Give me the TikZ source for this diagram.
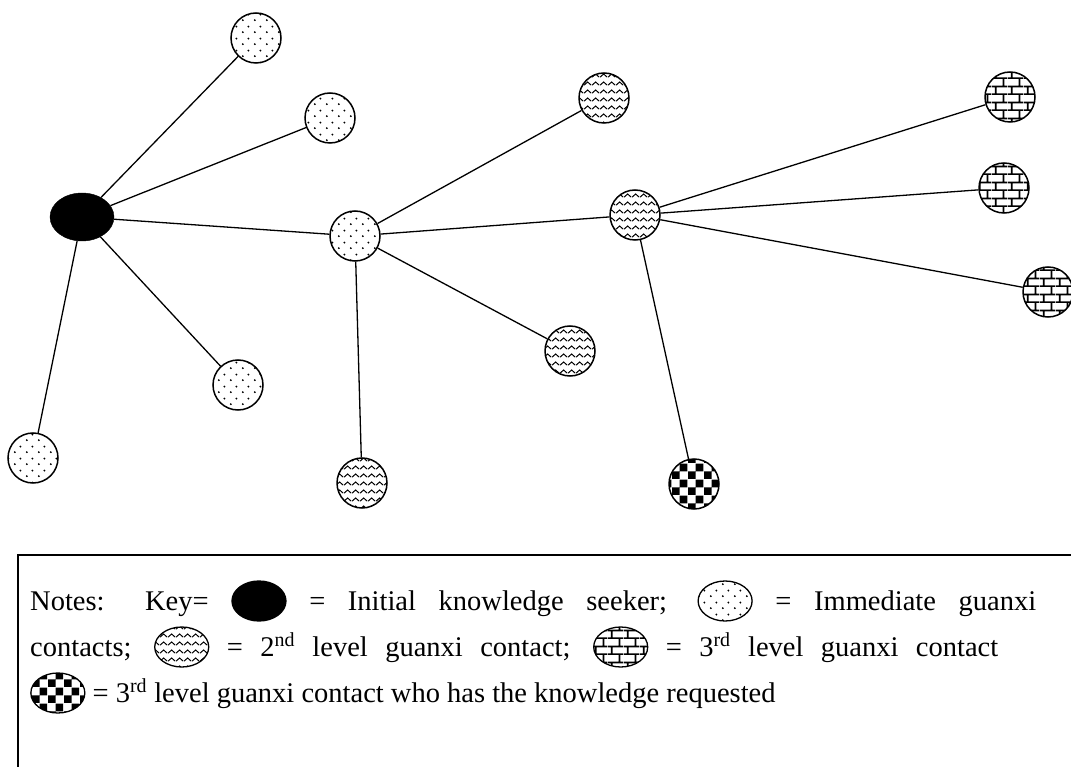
\documentclass[tikz,border=0pt]{standalone}
\usepackage{fontspec}
\setmainfont{Liberation Serif}
\usetikzlibrary{shapes.geometric,patterns.meta}

% fill patterns for the contact levels
\tikzdeclarepattern{
  name=guanxidots,
  bounding box={(0pt,0pt) and (12pt,12pt)},
  tile size={(12pt,12pt)},
  code={\fill (3pt,3pt) circle (1.1pt); \fill (9pt,9pt) circle (1.1pt);}
}
\tikzdeclarepattern{
  name=guanxiwaves,
  bounding box={(0pt,0pt) and (8pt,8pt)},
  tile size={(8pt,8pt)},
  code={\draw[line width=1.1pt] (0pt,2pt) -- (4pt,5.5pt) -- (8pt,2pt);}
}
\tikzdeclarepattern{
  name=guanxibricks,
  bounding box={(0pt,0pt) and (16pt,16pt)},
  tile size={(16pt,16pt)},
  code={\draw[line width=1.8pt] (0pt,0.9pt) -- (16pt,0.9pt) (0pt,8.9pt) -- (16pt,8.9pt)
          (4pt,0.9pt) -- (4pt,8.9pt) (12pt,8.9pt) -- (12pt,16.9pt);}
}
\tikzdeclarepattern{
  name=guanxichecks,
  bounding box={(0pt,0pt) and (16pt,16pt)},
  tile size={(16pt,16pt)},
  code={\fill (0pt,0pt) rectangle (8pt,8pt) (8pt,8pt) rectangle (16pt,16pt);}
}

\tikzset{
  keysym/.style={ellipse, draw, line width=1.3pt, minimum width=54, minimum height=40, inner sep=0pt}
}
\newcommand{\keymark}[1]{\tikz[baseline=-9pt]\node[keysym,#1] {};}

\begin{document}
\begin{tikzpicture}[
        x=1pt, y=-1pt,
        seeker/.style={ellipse, draw, fill=black, minimum width=64, minimum height=48, inner sep=0pt},
        contact/.style={circle, draw, line width=1.5pt, minimum size=50, inner sep=0pt},
        first/.style={contact, pattern=guanxidots},
        second/.style={contact, pattern=guanxiwaves},
        third/.style={contact, pattern=guanxibricks},
        target/.style={contact, pattern=guanxichecks},
        link/.style={line width=1.3pt},
        keytext/.style={anchor=base west, inner sep=0pt, font=\fontsize{28.5}{34}\selectfont}
    ]
    \clip (0,0) rectangle (1071,767);

    % Initial knowledge seeker
    \node[seeker] (S) at (82,217) {};

    % Immediate contacts
    \node[first] (A1) at (256,38) {};
    \node[first] (A2) at (330,118) {};
    \node[first] (A3) at (355,236) {};
    \node[first] (A4) at (238,385) {};
    \node[first] (A5) at (33,458) {};

    % 2nd level contacts
    \node[second] (B1) at (604,98) {};
    \node[second] (B2) at (635,215) {};
    \node[second] (B3) at (570,351) {};
    \node[second] (B4) at (362,483) {};

    % 3rd level contacts
    \node[third] (C1) at (1010,97) {};
    \node[third] (C2) at (1004,188) {};
    \node[third] (C3) at (1048,292) {};
    \node[target] (C4) at (694,484) {};

    % Connections
    \foreach \i in {1,...,5} {
        \draw[link] (S) -- (A\i);
    }
    \foreach \j in {1,...,4} {
        \draw[link] (A3) -- (B\j);
    }
    \foreach \k in {1,...,4} {
        \draw[link] (B2) -- (C\k);
    }

    % Key
    \draw[line width=1.5pt] (18,555) rectangle (1090,790);
    \node[keytext] (N1) at (30,610) {\makebox[1006pt][s]{Notes: Key= \keymark{fill=black} = Initial knowledge seeker; \keymark{pattern=guanxidots} = Immediate guanxi}};
    \node[keytext] (N2) at (30,656) {\makebox[968pt][s]{contacts; \keymark{pattern=guanxiwaves} = 2\textsuperscript{nd} level guanxi contact; \keymark{pattern=guanxibricks} = 3\textsuperscript{rd} level guanxi contact}};
    \node[keytext] (N3) at (30,702) {\keymark{pattern=guanxichecks} = 3\textsuperscript{rd} level guanxi contact who has the knowledge requested};

\end{tikzpicture}
\end{document}
